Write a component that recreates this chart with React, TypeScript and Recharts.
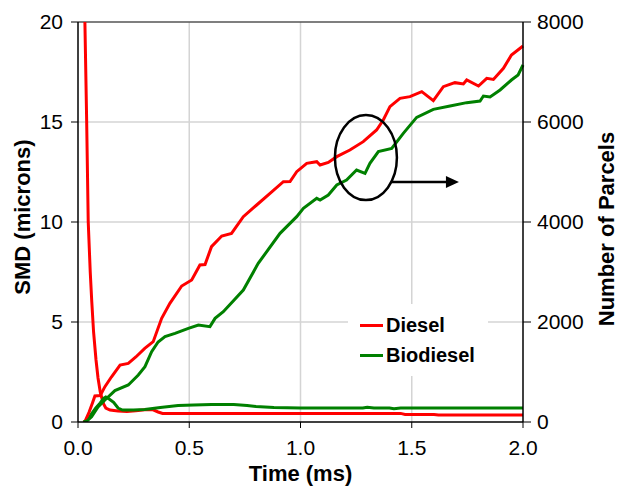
import React from 'react';
import {
  LineChart, Line, XAxis, YAxis, CartesianGrid, ReferenceLine, ReferenceDot, Legend,
} from 'recharts';

// Time (ms) ticks and axis ticks
const timeTicks = [0, 0.5, 1.0, 1.5, 2.0];
const smdTicks = [0, 5, 10, 15, 20];
const parcelTicks = [0, 2000, 4000, 6000, 8000];

// SMD (microns), left axis
const dieselSMD = [
  { t: 0.022, v: 40 }, { t: 0.031, v: 20 }, { t: 0.039, v: 15 }, { t: 0.046, v: 10 },
  { t: 0.055, v: 7.5 }, { t: 0.062, v: 6 }, { t: 0.07, v: 4.5 }, { t: 0.081, v: 3.1 },
  { t: 0.09, v: 2.2 }, { t: 0.1, v: 1.5 }, { t: 0.106, v: 1.25 }, { t: 0.115, v: 0.9 },
  { t: 0.125, v: 0.7 }, { t: 0.144, v: 0.6 }, { t: 0.18, v: 0.55 }, { t: 0.22, v: 0.52 },
  { t: 0.26, v: 0.56 }, { t: 0.3, v: 0.61 }, { t: 0.335, v: 0.62 }, { t: 0.36, v: 0.5 },
  { t: 0.38, v: 0.43 }, { t: 0.6, v: 0.43 }, { t: 1.0, v: 0.43 }, { t: 1.45, v: 0.43 },
  { t: 1.47, v: 0.38 }, { t: 1.6, v: 0.38 }, { t: 1.62, v: 0.35 }, { t: 2.0, v: 0.35 },
];

const biodieselSMD = [
  { t: 0.03, v: 0 }, { t: 0.045, v: 0.15 }, { t: 0.06, v: 0.4 }, { t: 0.08, v: 0.7 },
  { t: 0.1, v: 0.95 }, { t: 0.115, v: 1.18 }, { t: 0.125, v: 1.25 }, { t: 0.14, v: 1.15 },
  { t: 0.16, v: 0.98 }, { t: 0.18, v: 0.7 }, { t: 0.2, v: 0.6 }, { t: 0.25, v: 0.6 },
  { t: 0.3, v: 0.63 }, { t: 0.37, v: 0.73 }, { t: 0.45, v: 0.82 }, { t: 0.52, v: 0.85 },
  { t: 0.6, v: 0.88 }, { t: 0.7, v: 0.88 }, { t: 0.76, v: 0.83 }, { t: 0.8, v: 0.78 },
  { t: 0.88, v: 0.72 }, { t: 1.0, v: 0.7 }, { t: 1.28, v: 0.7 }, { t: 1.3, v: 0.74 },
  { t: 1.33, v: 0.7 }, { t: 1.4, v: 0.7 }, { t: 1.42, v: 0.66 }, { t: 1.45, v: 0.7 },
  { t: 2.0, v: 0.7 },
];

// Number of parcels, right axis
const dieselParcels = [
  { t: 0.022, v: 0 }, { t: 0.03, v: 0 }, { t: 0.05, v: 200 }, { t: 0.065, v: 380 },
  { t: 0.076, v: 520 }, { t: 0.1, v: 530 }, { t: 0.121, v: 707 }, { t: 0.15, v: 900 },
  { t: 0.189, v: 1140 }, { t: 0.226, v: 1173 }, { t: 0.26, v: 1300 }, { t: 0.3, v: 1473 },
  { t: 0.338, v: 1607 }, { t: 0.376, v: 2073 }, { t: 0.413, v: 2373 }, { t: 0.466, v: 2720 },
  { t: 0.511, v: 2840 }, { t: 0.548, v: 3140 }, { t: 0.571, v: 3150 }, { t: 0.6, v: 3507 },
  { t: 0.646, v: 3720 }, { t: 0.69, v: 3773 }, { t: 0.743, v: 4107 }, { t: 0.803, v: 4340 },
  { t: 0.863, v: 4573 }, { t: 0.923, v: 4807 }, { t: 0.953, v: 4810 }, { t: 0.983, v: 5007 },
  { t: 1.028, v: 5173 }, { t: 1.073, v: 5207 }, { t: 1.088, v: 5140 }, { t: 1.125, v: 5190 },
  { t: 1.163, v: 5307 }, { t: 1.222, v: 5440 }, { t: 1.282, v: 5607 }, { t: 1.342, v: 5840 },
  { t: 1.372, v: 6040 }, { t: 1.402, v: 6307 }, { t: 1.447, v: 6473 }, { t: 1.492, v: 6507 },
  { t: 1.545, v: 6607 }, { t: 1.597, v: 6427 }, { t: 1.642, v: 6707 }, { t: 1.694, v: 6787 },
  { t: 1.732, v: 6760 }, { t: 1.747, v: 6840 }, { t: 1.8, v: 6720 }, { t: 1.837, v: 6873 },
  { t: 1.867, v: 6850 }, { t: 1.912, v: 7073 }, { t: 1.948, v: 7340 }, { t: 2.0, v: 7520 },
];

const biodieselParcels = [
  { t: 0.024, v: 0 }, { t: 0.04, v: 20 }, { t: 0.061, v: 107 }, { t: 0.09, v: 300 },
  { t: 0.121, v: 440 }, { t: 0.166, v: 627 }, { t: 0.226, v: 740 }, { t: 0.271, v: 940 },
  { t: 0.301, v: 1107 }, { t: 0.331, v: 1407 }, { t: 0.36, v: 1600 }, { t: 0.391, v: 1707 },
  { t: 0.436, v: 1773 }, { t: 0.496, v: 1873 }, { t: 0.541, v: 1940 }, { t: 0.593, v: 1907 },
  { t: 0.616, v: 2073 }, { t: 0.653, v: 2207 }, { t: 0.743, v: 2640 }, { t: 0.81, v: 3173 },
  { t: 0.908, v: 3773 }, { t: 0.983, v: 4107 }, { t: 1.013, v: 4273 }, { t: 1.073, v: 4473 },
  { t: 1.088, v: 4440 }, { t: 1.125, v: 4540 }, { t: 1.163, v: 4740 }, { t: 1.207, v: 4840 },
  { t: 1.252, v: 5040 }, { t: 1.29, v: 4973 }, { t: 1.312, v: 5173 }, { t: 1.35, v: 5407 },
  { t: 1.41, v: 5473 }, { t: 1.462, v: 5773 }, { t: 1.522, v: 6093 }, { t: 1.597, v: 6253 },
  { t: 1.672, v: 6320 }, { t: 1.747, v: 6387 }, { t: 1.807, v: 6420 }, { t: 1.822, v: 6520 },
  { t: 1.852, v: 6500 }, { t: 1.897, v: 6640 }, { t: 1.948, v: 6840 }, { t: 1.978, v: 6940 },
  { t: 2.0, v: 7140 },
];

// Annotation (ellipse + arrow) anchored at this data point
const annotationPoint = { t: 1.294, v: 13.22 };

const legendItems = [
  { name: 'Diesel', color: '#ff0000' },
  { name: 'Biodiesel', color: '#008000' },
];

const FONT = '"Liberation Sans", Arial, sans-serif';
const RED = '#ff0000';
const GREEN = '#008000';

const LegendBox = () => (
  <div style={{ background: '#fff', padding: '6px 0 6px 12px', fontFamily: FONT }}>
    {legendItems.map((it) => (
      <div key={it.name} style={{ display: 'flex', alignItems: 'center', height: 30 }}>
        <div style={{ width: 23, height: 3, background: it.color, marginRight: 3 }} />
        <span style={{ fontWeight: 'bold', fontSize: 20, color: '#000' }}>{it.name}</span>
      </div>
    ))}
  </div>
);

const Annotation = (props: any) => {
  const { cx, cy } = props;
  const sx = cx + 26;
  const sy = cy + 24.5;
  const ex = cx + 93;
  return (
    <g>
      <ellipse cx={cx} cy={cy} rx={31} ry={42.5} fill="none" stroke="#000" strokeWidth={2.5} />
      <line x1={sx} y1={sy} x2={ex - 11} y2={sy} stroke="#000" strokeWidth={2.5} />
      <polygon points={`${ex - 13},${sy - 6} ${ex},${sy} ${ex - 13},${sy + 6}`} fill="#000" />
    </g>
  );
};

const leftTitle = (p: any) => {
  const vb = p.viewBox;
  return (
    <text x={vb.x + 22} y={vb.y + vb.height / 2 - 5} transform={`rotate(-90, ${vb.x + 22}, ${vb.y + vb.height / 2 - 5})`}
      textAnchor="middle" dominantBaseline="central" fontWeight="bold" fontSize={22} fontFamily={FONT} fill="#000">
      SMD (microns)
    </text>
  );
};

const rightTitle = (p: any) => {
  const vb = p.viewBox;
  const x = vb.x + 83;
  const y = vb.y + vb.height / 2 + 7;
  return (
    <text x={x} y={y} transform={`rotate(-90, ${x}, ${y})`}
      textAnchor="middle" dominantBaseline="central" fontWeight="bold" fontSize={22} fontFamily={FONT} fill="#000">
      Number of Parcels
    </text>
  );
};

const bottomTitle = (p: any) => {
  const vb = p.viewBox;
  return (
    <text x={vb.x + vb.width / 2} y={vb.y + 51} textAnchor="middle" dominantBaseline="central"
      fontWeight="bold" fontSize={22} fontFamily={FONT} fill="#000">
      Time (ms)
    </text>
  );
};

export default function App() {
  const tickStyle = { fontSize: 21, fill: '#000', fontFamily: FONT };
  return (
    <div style={{ position: 'absolute', left: 0, top: 0, background: '#fff' }}>
      <LineChart width={618} height={490} margin={{ top: 22, right: 0, bottom: 0, left: 0 }}>
        <CartesianGrid yAxisId="left" stroke="#d4d4d4" strokeWidth={1.5}
          horizontalValues={[5, 10, 15]} verticalValues={[0.5, 1.0, 1.5]} />
        <XAxis dataKey="t" type="number" domain={[0, 2]} ticks={timeTicks} allowDuplicatedCategory={false}
          tickFormatter={(v: number) => v.toFixed(1)} height={68} tick={tickStyle}
          axisLine={{ stroke: '#000', strokeWidth: 1.5 }} tickLine={{ stroke: '#000' }}
          tickSize={6} tickMargin={12} label={{ content: bottomTitle }} />
        <YAxis yAxisId="left" orientation="left" type="number" domain={[0, 20]} ticks={smdTicks}
          allowDataOverflow width={78} tick={tickStyle} axisLine={{ stroke: '#000', strokeWidth: 1.5 }}
          tickLine={{ stroke: '#000' }} tickSize={7} tickMargin={8} label={{ content: leftTitle }} />
        <YAxis yAxisId="right" orientation="right" type="number" domain={[0, 8000]} ticks={parcelTicks}
          allowDataOverflow width={95} tick={tickStyle} axisLine={{ stroke: '#000', strokeWidth: 1.5 }}
          tickLine={{ stroke: '#000' }} tickSize={8} tickMargin={6} label={{ content: rightTitle }} />
        <ReferenceLine yAxisId="left" y={20} stroke="#555" strokeWidth={1.5} />
        <Line yAxisId="left" data={dieselSMD} dataKey="v" stroke={RED} strokeWidth={3} dot={false}
          isAnimationActive={false} type="linear" name="Diesel SMD" legendType="none" />
        <Line yAxisId="left" data={biodieselSMD} dataKey="v" stroke={GREEN} strokeWidth={3} dot={false}
          isAnimationActive={false} type="linear" name="Biodiesel SMD" legendType="none" />
        <Line yAxisId="right" data={dieselParcels} dataKey="v" stroke={RED} strokeWidth={3} dot={false}
          isAnimationActive={false} type="linear" name="Diesel" />
        <Line yAxisId="right" data={biodieselParcels} dataKey="v" stroke={GREEN} strokeWidth={3} dot={false}
          isAnimationActive={false} type="linear" name="Biodiesel" />
        <ReferenceDot yAxisId="left" x={annotationPoint.t} y={annotationPoint.v} shape={Annotation} />
        <Legend layout="horizontal" verticalAlign="middle" align="center" content={LegendBox}
          wrapperStyle={{ position: 'absolute', left: 348, top: 304, width: 140, height: 66 }} />
      </LineChart>
    </div>
  );
}
